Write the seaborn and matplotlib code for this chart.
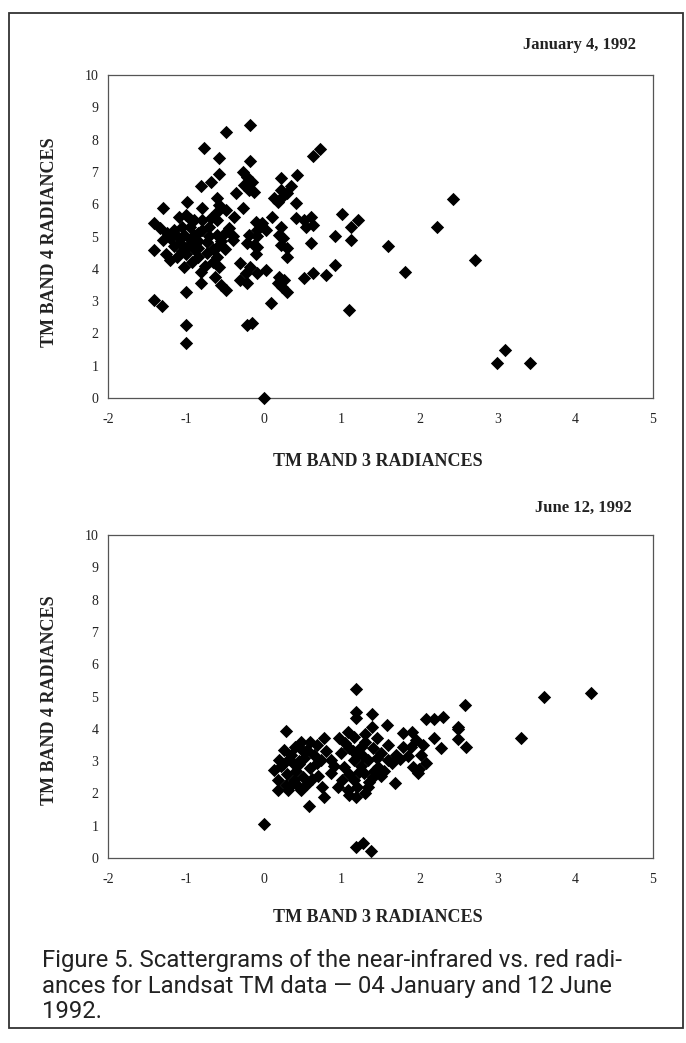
import numpy as np
import pandas as pd
import matplotlib
matplotlib.use("Agg")
import matplotlib.pyplot as plt
import seaborn as sns
from matplotlib.patches import Rectangle

# January 4, 1992 scattergram (TM band 3 vs band 4)
jan_x = [-0.18, -0.48, -0.77, 0.72, 0.63, -0.58, -0.18, -0.27, -0.21, -0.15, -0.19, -0.12,
         -0.58, -0.68, -0.80, 0.22, 0.43, 0.22, 0.30, 0.13, 0.24, 0.18, 0.41, -0.60, -0.58,
         -0.49, -0.27, -0.38, -1.30, -0.98, -0.79, -1.09, -1.00, -0.90, -0.79, -0.68, -0.60,
         -1.41, -1.33, -1.24, -1.20, -1.11, -1.03, -0.94, -1.07, -0.98, -0.85, -0.79, -0.73,
         -0.60, -0.60, -0.19, -0.21, -0.08, -0.08, -1.41, -1.20, -1.11, -0.92, -1.03, -0.85,
         -0.73, -0.60, -0.58, -0.62, -0.55, -0.49, -0.30, -0.23, -0.30, -0.21, -0.81, -1.00,
         -1.41, -1.31, -1.00, -0.21, -1.00, 0.00, 1.01, 1.21, 1.12, 0.41, 0.52, 0.61, 0.63,
         0.54, -0.04, 0.03, -0.08, 0.22, 0.20, 0.91, 1.12, 0.61, 1.60, -0.13, 0.22, 0.30,
         0.30, -0.17, -0.08, 0.03, 0.20, 0.26, 0.24, 0.30, 0.18, 0.52, 0.63, 0.80, 0.91,
         0.09, 1.10, -0.15, 2.43, 2.22, 2.72, 1.82, 3.10, 3.00, 3.42, -0.02,
         -1.15, -0.90, -0.85, -1.00, -0.70, -1.05, -0.95, -0.75, -0.50, -0.45, -0.40, -0.65,
         -0.80, -1.25, 0.25, -0.10, -0.25,
         -1.15, -0.90, -1.05, -0.85, -0.70, -0.95, -0.65, -0.55, -0.50, -1.30, -0.40, -0.10,
         0.10, 0.35, -0.35, -0.60]
jan_y = [8.45, 8.25, 7.73, 7.70, 7.50, 7.42, 7.33, 7.00, 6.85, 6.70, 6.45, 6.38,
         6.92, 6.70, 6.55, 6.80, 6.90, 6.44, 6.34, 6.18, 6.23, 6.08, 6.03, 6.18, 5.98,
         5.82, 5.87, 5.60, 5.87, 6.08, 5.87, 5.61, 5.67, 5.51, 5.51, 5.56, 5.50,
         5.41, 5.25, 5.10, 4.94, 5.00, 5.05, 4.89, 4.79, 4.69, 5.10, 5.20, 4.84,
         5.05, 4.69, 5.05, 4.79, 4.69, 5.00, 4.58, 4.27, 4.38, 4.22, 4.07, 4.38,
         4.48, 4.38, 4.07, 3.76, 3.50, 3.34, 4.17, 3.86, 3.65, 3.55, 3.55, 3.29,
         3.03, 2.85, 2.26, 2.26, 1.69, 0.00, 5.71, 5.51, 5.30, 5.56, 5.51, 5.61, 5.36,
         5.30, 5.36, 5.20, 5.20, 5.30, 5.05, 5.00, 4.89, 4.79, 4.72, 4.74, 4.74, 4.64,
         4.38, 4.07, 3.86, 3.96, 3.76, 3.65, 3.45, 3.29, 3.55, 3.70, 3.86, 3.81, 4.12,
         2.93, 2.72, 2.31, 6.15, 5.28, 4.27, 3.90, 1.50, 1.08, 1.08, 5.41,
         4.70, 4.60, 4.85, 4.45, 5.30, 5.30, 5.30, 4.10, 4.60, 5.25, 4.90, 4.20,
         3.90, 4.45, 4.95, 5.45, 6.60,
         5.20, 5.05, 4.55, 4.65, 5.00, 5.55, 4.60, 4.85, 5.10, 4.90, 5.00, 4.45,
         5.60, 6.55, 6.35, 5.75]

# June 12, 1992 scattergram
jun_x = [0.00, 1.19, 1.19, 1.19, 1.39, 1.39, 1.58, 0.28, 0.78, 0.97, 1.08, 1.79, 2.09,
         2.19, 1.96, 1.89, 2.19, 2.28, 1.79, 2.02, 2.09, 2.00, 1.92, 1.98, 1.68, 0.48,
         0.26, 0.20, 0.13, 0.18, 0.18, 0.31, 0.48, 0.39, 0.56, 0.69, 0.73, 0.86, 0.95,
         0.78, 0.58, 1.19, 1.27, 1.38, 1.16, 1.25, 1.16, 1.34, 1.51, 1.59, 1.47, 1.29,
         1.16, 1.08, 1.19, 1.34, 1.03, 0.99, 0.86, 2.58, 2.50, 2.60, 2.50, 3.60, 4.20,
         3.30, 2.50,
         0.35, 0.45, 0.30, 0.50, 0.60, 0.65, 0.40, 0.25, 0.55, 0.70, 0.80, 0.90, 0.35,
         0.60, 0.75, 0.45, 1.10, 1.20, 1.30, 1.40, 1.45, 1.25, 1.10, 1.40, 1.55, 1.20,
         1.05, 1.30, 1.45, 1.60, 1.70, 1.65, 1.75, 1.00, 1.30, 1.10, 1.85, 2.30, 2.05,
         1.90,
         0.22, 0.32, 0.42, 0.52, 0.62, 0.28, 0.38, 0.50, 0.68, 0.45, 1.22, 1.35, 1.15,
         1.28, 1.42, 1.50]
jun_y = [1.05, 5.22, 4.53, 4.33, 4.45, 4.07, 4.13, 3.93, 3.72, 3.70, 3.91, 3.86, 4.31,
         4.30, 3.65, 3.45, 3.72, 3.40, 3.44, 3.20, 2.95, 2.77, 2.82, 2.62, 2.32, 3.60,
         3.34, 3.03, 2.72, 2.41, 2.10, 2.10, 2.10, 2.41, 3.34, 3.50, 3.03, 2.62, 2.21,
         1.90, 1.62, 0.35, 0.45, 0.22, 3.75, 3.44, 3.03, 3.03, 3.24, 3.03, 2.82, 2.62,
         2.41, 2.10, 1.90, 2.21, 2.82, 3.24, 3.03, 4.74, 4.07, 3.44, 3.67, 4.98, 5.10,
         3.70, 3.98,
         3.20, 2.90, 2.60, 2.50, 2.80, 3.20, 3.45, 2.90, 2.30, 2.55, 3.30, 2.85, 2.25,
         3.60, 2.20, 3.00, 3.40, 3.20, 3.60, 3.40, 3.10, 2.85, 2.60, 2.50, 2.70, 2.20,
         3.55, 3.85, 3.70, 3.50, 3.20, 2.95, 3.05, 2.40, 2.00, 1.95, 3.15, 4.35, 3.50,
         3.90,
         2.85, 3.05, 2.70, 3.10, 2.45, 2.25, 2.95, 3.30, 2.95, 2.20, 2.65, 2.35, 3.30,
         3.15, 2.70, 2.55]

x_ticks = [-2, -1, 0, 1, 2, 3, 4, 5]
y_ticks = [0, 1, 2, 3, 4, 5, 6, 7, 8, 9, 10]

jan = pd.DataFrame({"band3": jan_x, "band4": jan_y})
jun = pd.DataFrame({"band3": jun_x, "band4": jun_y})

sns.set_style("white")
serif = ["Liberation Serif", "DejaVu Serif"]
plt.rcParams["font.family"] = serif
plt.rcParams["axes.unicode_minus"] = False
caption_font = ["Roboto", "DejaVu Sans"]

W, H = 686, 1043
fig = plt.figure(figsize=(W / 100, H / 100), dpi=100)

# outer page frame
fig.patches.append(Rectangle((9 / W, 1 - 1028 / H), 674 / W, 1015 / H,
                             transform=fig.transFigure, fill=False,
                             edgecolor="#333333", linewidth=1.3))


def panel(df, bottom_px, title, title_x_px, title_y_px, xlabel_y_px, ylabel_y_px):
    ax = fig.add_axes([108 / W, 1 - bottom_px / H, 545 / W, 323 / H])
    sns.scatterplot(data=df, x="band3", y="band4", marker="D", color="black",
                    s=46, linewidth=0, ax=ax, zorder=3, clip_on=False)
    ax.set_xlim(-2, 5)
    ax.set_ylim(0, 10)
    ax.set_xticks(x_ticks)
    ax.set_yticks(y_ticks)
    ax.set_xticklabels([str(t) for t in x_ticks], fontfamily="Liberation Serif", fontsize=10)
    ax.set_yticklabels([str(t) for t in y_ticks], fontfamily="Liberation Serif", fontsize=10)
    ax.tick_params(axis="x", direction="inout", length=6, width=0.8, color="#444444",
                   pad=8, labelcolor="#222222")
    ax.tick_params(axis="y", direction="inout", length=6, width=0.8, color="#444444",
                   pad=4, labelcolor="#222222")
    for sp in ax.spines.values():
        sp.set_color("#555555")
        sp.set_linewidth(0.9)
    ax.set_xlabel("")
    ax.set_ylabel("")
    fig.text(title_x_px / W, 1 - title_y_px / H, title, ha="right", va="center",
             fontweight="bold", fontsize=12, color="#222222")
    fig.text(378 / W, 1 - xlabel_y_px / H, "TM BAND 3 RADIANCES", ha="center", va="center",
             fontweight="bold", fontsize=13, color="#222222")
    fig.text(50 / W, 1 - ylabel_y_px / H, "TM BAND 4 RADIANCES", ha="center", va="center",
             rotation=90, fontweight="bold", fontsize=13, color="#222222")
    return ax


panel(jan, 398, "January 4, 1992", 636, 45, 462, 242)
panel(jun, 858, "June 12, 1992", 632, 508, 918, 700)

caption = ["Figure 5. Scattergrams of the near-infrared vs. red radi-",
           "ances for Landsat TM data \u2014 04 January and 12 June",
           "1992."]
for i, line in enumerate(caption):
    fig.text(42 / W, 1 - (960 + 26 * i) / H, line, ha="left", va="center",
             fontfamily=caption_font, fontsize=17.2, color="#222222")

fig.savefig("out.png", dpi=100)
